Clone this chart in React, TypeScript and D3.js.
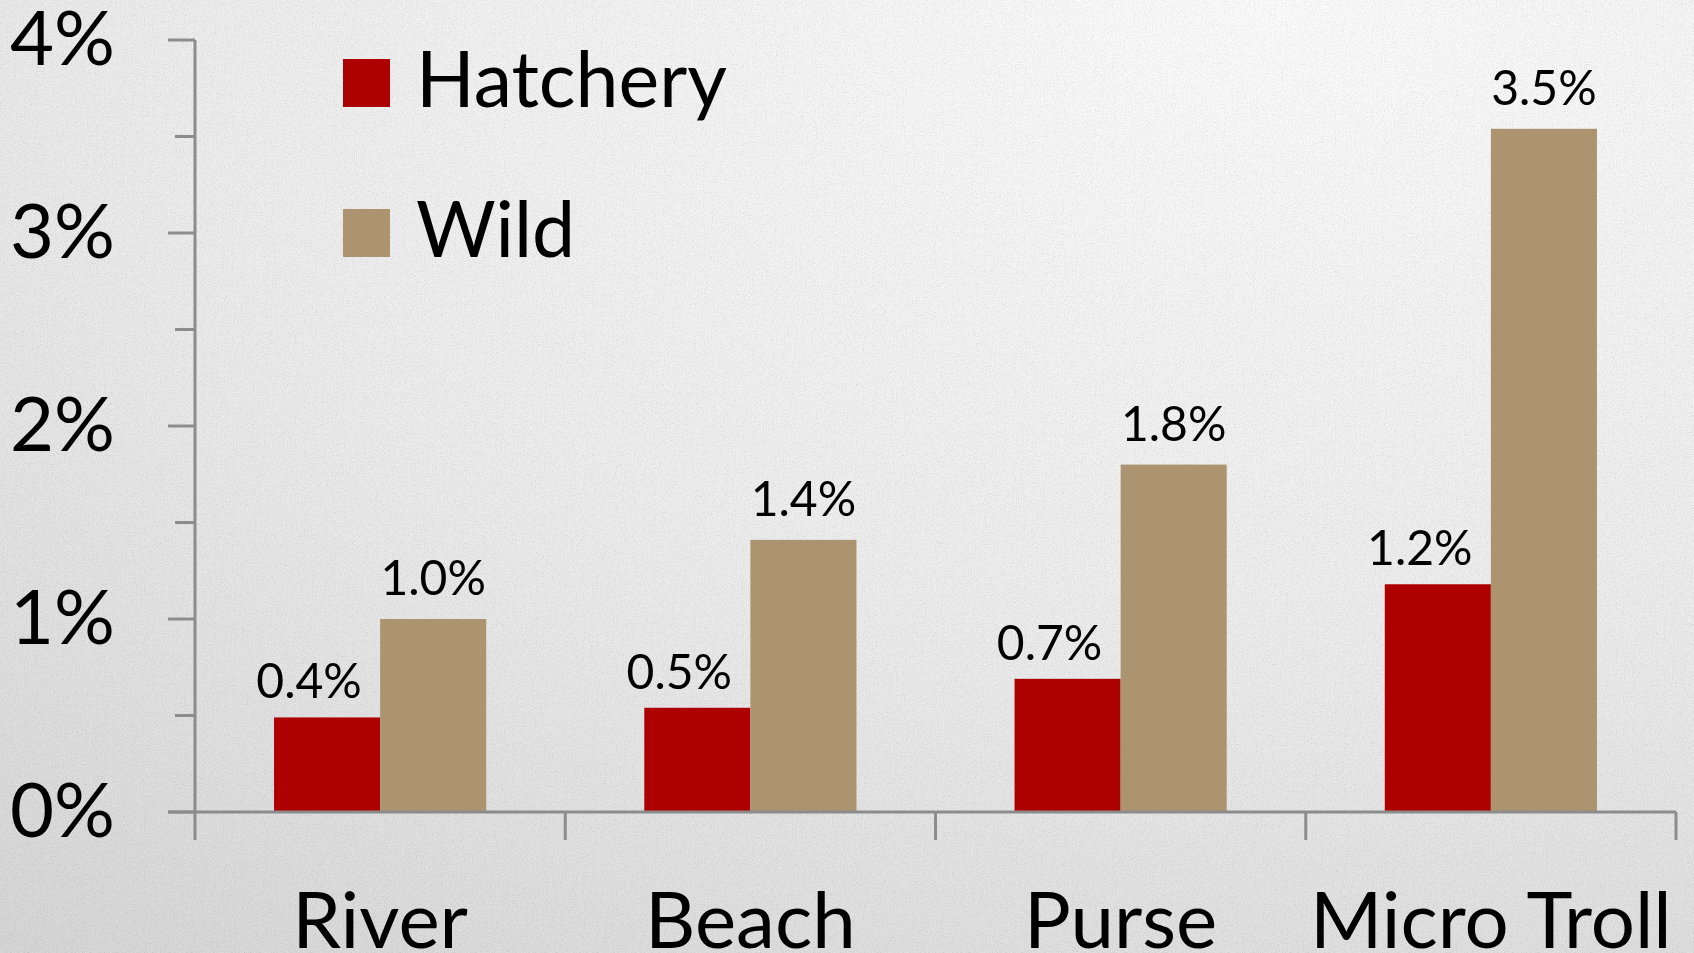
import * as d3 from "d3";

// survival by capture method, fraction of fish
const categories = ["River", "Beach", "Purse", "Micro Troll"];
const seriesNames = ["Hatchery", "Wild"];
const hatchery = [0.0049, 0.0054, 0.0069, 0.0118];
const wild = [0.01, 0.0141, 0.018, 0.0354];
const hatcheryLabels = ["0.4%", "0.5%", "0.7%", "1.2%"];
const wildLabels = ["1.0%", "1.4%", "1.8%", "3.5%"];
const yTicks = [0, 0.01, 0.02, 0.03, 0.04];
const yMinorTicks = [0.005, 0.015, 0.025, 0.035];

const W = 1694;
const H = 953;
const FONT = "Lato, 'Open Sans', sans-serif";
const colors = ["#ad0000", "#ac9470"];
const axisColor = "#8c8c8c";
// hatchery labels sit a bit left of and closer to their bars
const labelShift = [
  { dx: -18, gap: 19 },
  { dx: 0, gap: 24 },
];

export default function App() {
  const x = d3.scaleBand().domain(categories).range([195, 1676]);
  const groupW = x.bandwidth() * 0.573;
  const x1 = d3.scaleBand().domain(seriesNames).range([0, groupW]);
  const y = d3.scaleLinear().domain([0, 0.04]).range([812, 40]);
  const fmt = d3.format(".0%");

  const rows = categories.map((c, i) => ({
    cat: c,
    vals: [
      { s: seriesNames[0], v: hatchery[i], label: hatcheryLabels[i] },
      { s: seriesNames[1], v: wild[i], label: wildLabels[i] },
    ],
  }));

  return (
    <svg width={W} height={H} style={{ position: "fixed", left: 0, top: 0 }} fontFamily={FONT}>
      <defs>
        <radialGradient id="bg" cx="0.75" cy="0" r="1.25">
          <stop offset="0" stopColor="#fbfbfb" />
          <stop offset="0.55" stopColor="#ececec" />
          <stop offset="1" stopColor="#d6d6d6" />
        </radialGradient>
        <filter id="paper" x="0" y="0" width="100%" height="100%">
          <feTurbulence type="fractalNoise" baseFrequency="0.9" numOctaves={2} seed={3} result="n" />
          <feColorMatrix type="matrix" values="0 0 0 0 0  0 0 0 0 0  0 0 0 0 0  0.33 0.33 0.33 0 -0.45" />
        </filter>
      </defs>
      <rect width={W} height={H} fill="url(#bg)" />
      <rect width={W} height={H} filter="url(#paper)" opacity={0.35} />

      {/* bars */}
      {rows.map((r) => (
        <g key={r.cat} transform={`translate(${x(r.cat)! + (x.bandwidth() - groupW) / 2},0)`}>
          {r.vals.map((d, j) => (
            <g key={d.s}>
              <rect x={x1(d.s)} y={y(d.v)} width={x1.bandwidth()} height={y(0) - y(d.v)} fill={colors[j]} />
              <text
                x={x1(d.s)! + x1.bandwidth() / 2 + labelShift[j].dx}
                y={y(d.v) - labelShift[j].gap}
                textAnchor="middle"
                fontSize={48}
                fill="#000"
              >
                {d.label}
              </text>
            </g>
          ))}
        </g>
      ))}

      {/* y axis */}
      <line x1={195} x2={195} y1={y(0.04)} y2={y(0)} stroke={axisColor} strokeWidth={3} />
      {yTicks.map((t) => (
        <g key={t}>
          <line x1={168} x2={195} y1={y(t)} y2={y(t)} stroke={axisColor} strokeWidth={3} />
          <text x={115} y={y(t) + 25} textAnchor="end" fontSize={76} fill="#000">
            {fmt(t)}
          </text>
        </g>
      ))}
      {yMinorTicks.map((t) => (
        <line key={t} x1={175} x2={195} y1={y(t)} y2={y(t)} stroke={axisColor} strokeWidth={3} />
      ))}

      {/* x axis */}
      <line x1={168} x2={1676} y1={y(0)} y2={y(0)} stroke={axisColor} strokeWidth={3} />
      {[...categories.map((c) => x(c)!), 1676].map((px) => (
        <line key={px} x1={px} x2={px} y1={y(0)} y2={y(0) + 28} stroke={axisColor} strokeWidth={3} />
      ))}
      {categories.map((c) => (
        <text key={c} x={x(c)! + x.bandwidth() / 2} y={948} textAnchor="middle" fontSize={78} fill="#000">
          {c}
        </text>
      ))}

      {/* legend */}
      {seriesNames.map((s, i) => (
        <g key={s} transform={`translate(343,${59 + i * 150})`}>
          <rect width={47} height={48} fill={colors[i]} />
          <text x={73} y={48} fontSize={77} fill="#000">
            {s}
          </text>
        </g>
      ))}
    </svg>
  );
}
